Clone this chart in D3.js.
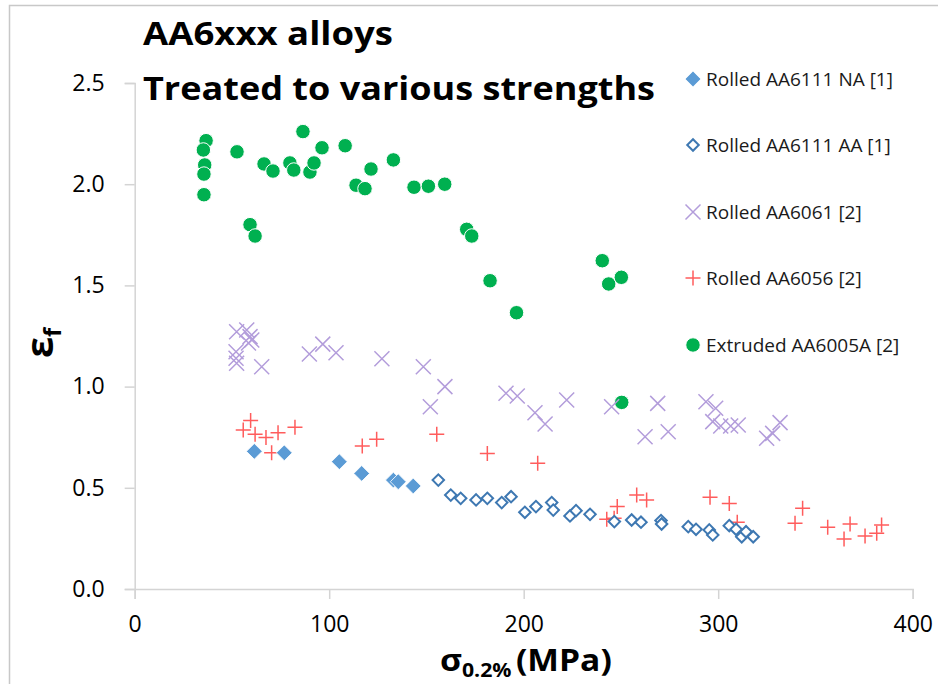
<!DOCTYPE html>
<html>
<head>
<meta charset="utf-8">
<script src="https://cdn.jsdelivr.net/npm/d3@7"></script>
<style>
  body { margin: 0; background: #fff; }
  text { font-family: "Open Sans", "Noto Sans", sans-serif; fill: #000; }
  .tick-label { font-size: 23px; }
  .legend { font-size: 19px; fill: #1a1a1a; }
  .title { font-size: 32px; font-weight: bold; }
</style>
</head>
<body>
<div id="viz_container"></div>
<script>
// series values [sigma 0.2% (MPa), strain]
const rolledNA = [[61.5, 0.68], [76.9, 0.673], [105.2, 0.629], [116.7, 0.571], [133, 0.538],
  [135.5, 0.53], [143.2, 0.509]];
const rolledAA = [[156.1, 0.538], [162.5, 0.464], [167.6, 0.448], [175.5, 0.44], [181.3, 0.448],
  [188.7, 0.427], [193.5, 0.456], [200.6, 0.379], [206.3, 0.407], [214.4, 0.427], [215.2, 0.39],
  [223.8, 0.361], [226.9, 0.387], [234.1, 0.369], [246.6, 0.333], [255.5, 0.341], [260.3, 0.33],
  [270.6, 0.338], [270.9, 0.321], [284.6, 0.308], [288.6, 0.295], [295.4, 0.292], [297.2, 0.267],
  [305.7, 0.313], [309.2, 0.295], [312.1, 0.258], [314.3, 0.283], [318, 0.258]];
const rolled6061 = [[52.4, 1.271], [57.6, 1.28], [59.3, 1.247], [60.2, 1.23], [58.5, 1.215],
  [52.1, 1.172], [52.1, 1.14], [52.4, 1.115], [65.3, 1.098], [89.8, 1.161], [96.7, 1.21],
  [103.5, 1.167], [127.1, 1.138], [148.4, 1.098], [152, 0.9], [159.5, 1.0], [190.9, 0.967],
  [196.7, 0.954], [205.8, 0.871], [211, 0.815], [222.1, 0.934], [245.2, 0.9], [262.4, 0.752],
  [268.9, 0.917], [274.3, 0.777], [293.7, 0.925], [298.7, 0.893], [297.2, 0.827], [301.3, 0.805],
  [306.4, 0.805], [310.3, 0.81], [324.9, 0.745], [328, 0.769], [331.8, 0.822]];
const rolled6056 = [[59.6, 0.832], [55.8, 0.786], [61.9, 0.764], [67.5, 0.749], [73.7, 0.772],
  [82.4, 0.799], [70.4, 0.673], [117, 0.707], [124.4, 0.74], [155.3, 0.764], [181.3, 0.67],
  [207.2, 0.621], [242.7, 0.344], [246.5, 0.35], [248.1, 0.407], [258.1, 0.464], [263.2, 0.44],
  [295.8, 0.453], [305.7, 0.423], [309.8, 0.33], [339.5, 0.325], [343.4, 0.399], [356.3, 0.305],
  [364.7, 0.247], [367.8, 0.321], [375.5, 0.262], [381.5, 0.275], [384, 0.316]];
const extruded6005A = [[36.7, 2.215], [35.3, 2.169], [36, 2.095], [35.6, 2.05], [35.6, 1.948],
  [52.6, 2.16], [59.3, 1.8], [61.9, 1.744], [66.5, 2.1], [71.1, 2.065], [79.8, 2.105], [81.8, 2.07],
  [86.5, 2.26], [90.1, 2.06], [92.2, 2.105], [96.3, 2.18], [108.2, 2.19], [113.8, 1.995],
  [118.4, 1.978], [121.5, 2.075], [133, 2.12], [143.6, 1.985], [151, 1.99], [159.4, 2.0],
  [170.7, 1.777], [173.3, 1.744], [182.7, 1.523], [196.3, 1.365], [240.4, 1.622], [243.7, 1.507],
  [250.2, 1.54], [250.4, 0.922]];

const seriesNames = ["Rolled AA6111 NA [1]", "Rolled AA6111 AA [1]", "Rolled AA6061 [2]",
  "Rolled AA6056 [2]", "Extruded AA6005A [2]"];
const xTicks = [0, 100, 200, 300, 400];
const yTicks = [0, 0.5, 1.0, 1.5, 2.0, 2.5];

const W = 938, H = 684;
const svg = d3.select("#viz_container")
  .append("svg")
  .attr("width", W)
  .attr("height", H);

svg.append("rect").attr("width", W).attr("height", H).attr("fill", "#fff");

// screenshot frame
svg.append("path")
  .attr("d", "M9.5," + H + "V5.5H" + W)
  .attr("fill", "none")
  .attr("stroke", "#c8c8c8")
  .attr("stroke-width", 1.5);

const x = d3.scaleLinear().domain([0, 400]).range([134.7, 912.7]);
const y = d3.scaleLinear().domain([0, 2.5]).range([589, 83]);

// axes
const xAxis = svg.append("g")
  .attr("transform", "translate(0,589)")
  .call(d3.axisBottom(x).tickValues(xTicks).tickSize(10).tickPadding(11).tickFormat(d3.format("d")));
const yAxis = svg.append("g")
  .attr("transform", "translate(134.7,0)")
  .call(d3.axisLeft(y).tickValues(yTicks).tickSize(10).tickPadding(20).tickFormat(d3.format(".1f")));

[xAxis, yAxis].forEach(a => {
  a.select(".domain").attr("stroke", "#d4d4d4").attr("stroke-width", 1.5);
  a.selectAll(".tick line").attr("stroke", "#d4d4d4").attr("stroke-width", 1.5);
  a.selectAll(".tick text").attr("class", "tick-label").attr("fill", "#000")
    .style("font-family", "'Open Sans', sans-serif");
});
xAxis.selectAll(".tick text").attr("dy", "0.95em");

// marker drawers
const diamond = (s) => d3.symbol().type(d3.symbolSquare).size(s)();
function drawSeries(data, kind, g) {
  const sel = g.selectAll(null).data(data).join("path")
    .attr("transform", d => `translate(${x(d[0])},${y(d[1])})` + (kind === "na" || kind === "aa" ? " rotate(45)" : ""));
  styleMarker(sel, kind);
}
function styleMarker(sel, kind) {
  if (kind === "na") {
    sel.attr("d", diamond(125)).attr("fill", "#5b9bd5").attr("stroke", "#fff").attr("stroke-width", 0.8);
  } else if (kind === "aa") {
    sel.attr("d", diamond(66)).attr("fill", "#fff").attr("stroke", "#3e78b2").attr("stroke-width", 2);
  } else if (kind === "x") {
    sel.attr("d", "M-7.5,-7.5L7.5,7.5M-7.5,7.5L7.5,-7.5").attr("fill", "none")
      .attr("stroke", "#b39ddb").attr("stroke-width", 1.5);
  } else if (kind === "plus") {
    sel.attr("d", "M-7.5,0H7.5M0,-7.5V7.5").attr("fill", "none")
      .attr("stroke", "#ff5c5c").attr("stroke-width", 1.5);
  } else {
    sel.attr("d", d3.symbol().type(d3.symbolCircle).size(165)()).attr("fill", "#00b050")
      .attr("stroke", "#fff").attr("stroke-width", 1);
  }
}

const kinds = ["na", "aa", "x", "plus", "dot"];
const allSeries = [rolledNA, rolledAA, rolled6061, rolled6056, extruded6005A];
const plot = svg.append("g");
// draw order: green dots at the bottom, diamonds on top
[extruded6005A, rolled6061, rolled6056, rolledAA, rolledNA].forEach(s => {
  const k = kinds[allSeries.indexOf(s)];
  drawSeries(s, k, plot.append("g"));
});

// titles
svg.append("text").attr("class", "title").attr("x", 143).attr("y", 45)
  .attr("textLength", 250).attr("lengthAdjust", "spacingAndGlyphs").text("AA6xxx alloys");
svg.append("text").attr("class", "title").attr("x", 143).attr("y", 100)
  .attr("textLength", 512).attr("lengthAdjust", "spacingAndGlyphs").text("Treated to various strengths");

// legend
const legendY = [79, 145, 212, 278, 345];
const lg = svg.append("g");
seriesNames.forEach((name, i) => {
  const m = lg.append("path")
    .attr("transform", `translate(693,${legendY[i]})` + (i < 2 ? " rotate(45)" : ""));
  styleMarker(m, kinds[i]);
  lg.append("text").attr("class", "legend")
    .attr("x", 706).attr("y", legendY[i]).attr("dy", "0.35em").text(name);
});

// axis titles
const xt = svg.append("text")
  .attr("transform", "translate(440,671) scale(1.12,1)")
  .style("font-size", "30px").style("font-weight", "bold");
xt.append("tspan").text("σ");
xt.append("tspan").attr("dy", 6).style("font-size", "19px").text("0.2%");
xt.append("tspan").attr("dy", -6).attr("dx", 4).text("(MPa)");

const yt = svg.append("text")
  .attr("transform", "translate(53,358) rotate(-90)")
  .style("font-size", "38px").style("font-weight", "bold");
yt.append("tspan").text("ε");
yt.append("tspan").attr("dy", 8).style("font-size", "24px").text("f");
</script>
</body>
</html>
